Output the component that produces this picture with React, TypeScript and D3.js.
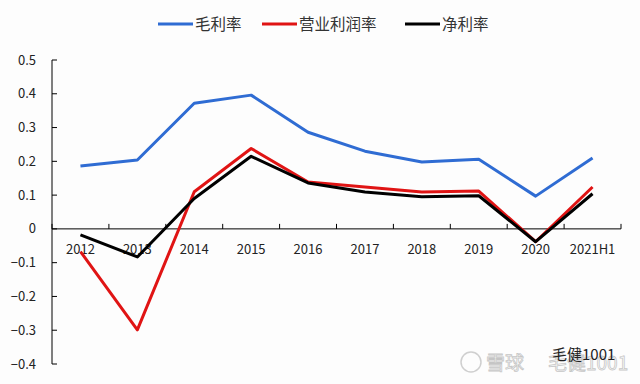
import React from "react";
import * as d3 from "d3";

const years = ["2012", "2013", "2014", "2015", "2016", "2017", "2018", "2019", "2020", "2021H1"];
const grossMargin = [0.186, 0.204, 0.372, 0.396, 0.286, 0.23, 0.198, 0.206, 0.097, 0.21];
const operatingMargin = [-0.067, -0.299, 0.11, 0.238, 0.139, 0.124, 0.109, 0.112, -0.038, 0.124];
const netMargin = [-0.018, -0.083, 0.09, 0.215, 0.136, 0.109, 0.095, 0.098, -0.038, 0.104];
const yTicks = [0.5, 0.4, 0.3, 0.2, 0.1, 0, -0.1, -0.2, -0.3, -0.4];

const seriesList = [
  { name: "毛利率", values: grossMargin, color: "#2f6cd3" },
  { name: "营业利润率", values: operatingMargin, color: "#e01414" },
  { name: "净利率", values: netMargin, color: "#000000" },
];

const W = 640;
const H = 384;
const font = "'Noto Sans CJK SC', 'Noto Sans', sans-serif";

const App = () => {
  const x = d3.scaleBand().domain(years).range([52, 621]);
  const y = d3.scaleLinear().domain([-0.4, 0.5]).range([364, 60]);

  const line = d3
    .line<number>()
    .x((_, i) => x(years[i])! + x.bandwidth() / 2)
    .y((d) => y(d));

  // legend entries: line start positions
  const legendX = [158, 262, 405];

  return (
    <svg
      width={W}
      height={H}
      style={{ position: "absolute", left: 0, top: 0, background: "#fdfdfd" }}
      fontFamily={font}
    >
      {/* legend */}
      {seriesList.map((s, i) => (
        <g key={s.name} transform={`translate(${legendX[i]},24)`}>
          <line x1={0} x2={35} y1={0} y2={0} stroke={s.color} strokeWidth={3} />
          <text x={37} y={5.5} fontSize={15.5} fill="#333">
            {s.name}
          </text>
        </g>
      ))}

      {/* y axis */}
      <line x1={52} x2={52} y1={y(0.5)} y2={y(-0.4)} stroke="#000" strokeWidth={1} />
      {yTicks.map((t) => (
        <g key={t}>
          <line x1={52} x2={57} y1={y(t)} y2={y(t)} stroke="#000" />
          <text x={36} y={y(t)} dy="0.35em" textAnchor="end" fontSize={13} fill="#222">
            {t === 0 ? "0" : d3.format(".1f")(t)}
          </text>
        </g>
      ))}

      {/* x axis at zero */}
      <line x1={52} x2={621} y1={y(0)} y2={y(0)} stroke="#000" />
      {years.map((yr, i) => (
        <g key={yr}>
          <line
            x1={x(yr)! + x.bandwidth()}
            x2={x(yr)! + x.bandwidth()}
            y1={y(0)}
            y2={y(0) - 5}
            stroke="#000"
          />
          {i === 0 && (
            <line x1={x(yr)!} x2={x(yr)!} y1={y(0)} y2={y(0) - 5} stroke="#000" />
          )}
          <text
            x={x(yr)! + x.bandwidth() / 2}
            y={y(0) + 25}
            textAnchor="middle"
            fontSize={13}
            fill="#222"
          >
            {yr}
          </text>
        </g>
      ))}

      {/* series */}
      {seriesList.map((s) => (
        <path
          key={s.name}
          d={line(s.values) || ""}
          fill="none"
          stroke={s.color}
          strokeWidth={3}
          strokeLinejoin="round"
        />
      ))}

      {/* watermark */}
      <g opacity={0.55}>
        <circle cx={471} cy={362} r={10} fill="none" stroke="#aaa" strokeWidth={1.5} />
        <text x={486} y={370} fontSize={19} fill="#fff" stroke="#999" strokeWidth={0.8}>
          雪球
        </text>
        <text x={548} y={370} fontSize={19} fill="#fff" stroke="#999" strokeWidth={0.8}>
          毛健1001
        </text>
      </g>
      <text x={552} y={360} fontSize={15} fill="#222">
        毛健1001
      </text>
    </svg>
  );
};

export default App;
